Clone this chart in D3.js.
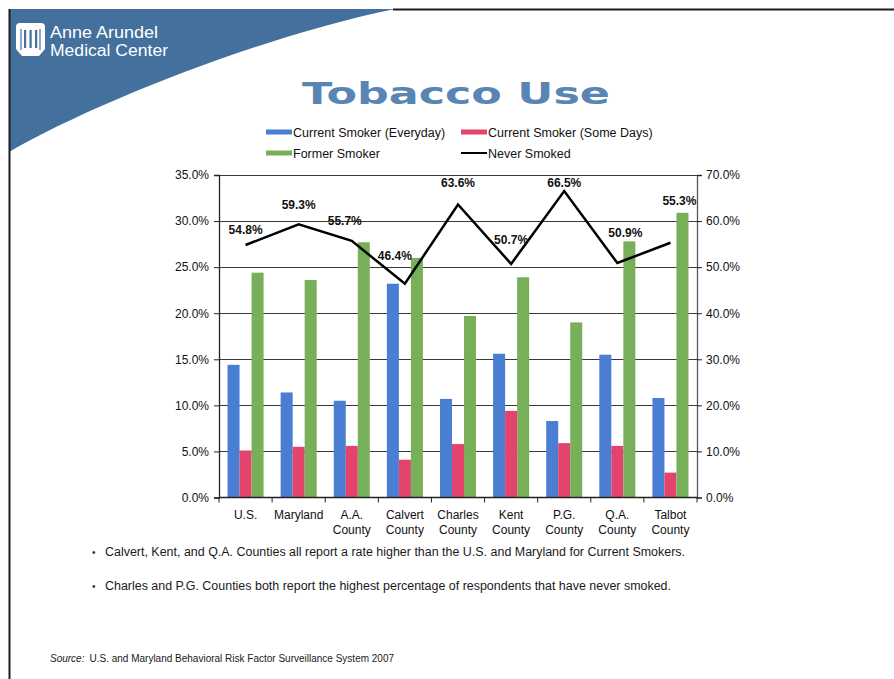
<!DOCTYPE html>
<html>
<head>
<meta charset="utf-8">
<script src="https://cdnjs.cloudflare.com/ajax/libs/d3/7.8.5/d3.min.js"></script>
<style>
  html, body { margin: 0; padding: 0; background: #fff; }
  svg { display: block; font-family: "Liberation Sans", Arial, sans-serif; }
</style>
</head>
<body>
<svg id="chart" width="894" height="679"></svg>
<script>
// BRFSS 2007 tobacco use by jurisdiction
const categories = [["U.S."], ["Maryland"], ["A.A.", "County"], ["Calvert", "County"], ["Charles", "County"],
                    ["Kent", "County"], ["P.G.", "County"], ["Q.A.", "County"], ["Talbot", "County"]];
const seriesNames = ["Current Smoker (Everyday)", "Current Smoker (Some Days)", "Former Smoker", "Never Smoked"];
const everyday = [14.4, 11.4, 10.5, 23.2, 10.7, 15.6, 8.3, 15.5, 10.8];
const someDays = [5.1, 5.5, 5.6, 4.1, 5.8, 9.4, 5.9, 5.6, 2.7];
const former   = [24.4, 23.6, 27.7, 26.0, 19.7, 23.9, 19.0, 27.8, 30.9];
const never    = [54.8, 59.3, 55.7, 46.4, 63.6, 50.7, 66.5, 50.9, 55.3];
const leftTicks  = [0, 5, 10, 15, 20, 25, 30, 35];
const rightTicks = [0, 10, 20, 30, 40, 50, 60, 70];

// hand-placed label nudges for the line labels (dx, dy from the point)
const labelNudge = [[0, -11], [0, -15], [-7, -16], [-10, -24], [0, -17], [0, -20], [0, -4], [8, -26], [9, -38]];

const colors = ["#4a7ed2", "#e4446c", "#78b05a"];
const svg = d3.select("#chart");
const keys = categories.map(c => c.join(" "));

// ---- slide frame and header swoosh ----
svg.append("path")
  .attr("d", "M9,9 H395 C262,36 92,104 9,152 Z")
  .attr("fill", "#44709d");
svg.append("line").attr("x1", 393).attr("x2", 894).attr("y1", 9.5).attr("y2", 9.5)
  .attr("stroke", "#1c1c1c").attr("stroke-width", 2);
svg.append("line").attr("x1", 9.5).attr("x2", 9.5).attr("y1", 9).attr("y2", 679)
  .attr("stroke", "#1c1c1c").attr("stroke-width", 2);

// logo mark
const logo = svg.append("g");
logo.append("path")
  .attr("d", "M16,27 Q16,23 20,23 L41,23 Q45,23 45,27 L45,49 L39,56 L22,56 L16,49 Z")
  .attr("fill", "#fff");
[24, 29.5, 35].forEach(x => logo.append("rect").attr("x", x).attr("y", 30).attr("width", 2.2).attr("height", 18).attr("fill", "#44709d"));
logo.append("path").attr("d", "M21,29 L21,50 M40,29 L40,50").attr("stroke", "#44709d").attr("stroke-width", 1.2);
svg.append("text").attr("x", 50).attr("y", 38).attr("fill", "#fff")
  .attr("font-family", "'Liberation Sans', Arial, sans-serif").attr("font-size", 16)
  .attr("textLength", 108).attr("lengthAdjust", "spacingAndGlyphs").text("Anne Arundel");
svg.append("text").attr("x", 50).attr("y", 56).attr("fill", "#fff")
  .attr("font-family", "'Liberation Sans', Arial, sans-serif").attr("font-size", 16)
  .attr("textLength", 118).attr("lengthAdjust", "spacingAndGlyphs").text("Medical Center");

// title
svg.append("text").attr("x", 302).attr("y", 104)
  .attr("font-family", "'DejaVu Sans', Verdana, sans-serif").attr("font-weight", "bold")
  .attr("font-size", 31).attr("fill", "#5885b4")
  .attr("textLength", 308).attr("lengthAdjust", "spacingAndGlyphs").text("Tobacco Use");

// ---- legend ----
const legendItems = [
  { name: seriesNames[0], x: 266, y: 132, type: "bar", color: colors[0] },
  { name: seriesNames[1], x: 461, y: 132, type: "bar", color: colors[1] },
  { name: seriesNames[2], x: 266, y: 153, type: "bar", color: colors[2] },
  { name: seriesNames[3], x: 461, y: 153, type: "line", color: "#000" }
];
const lg = svg.append("g").selectAll("g").data(legendItems).join("g");
lg.filter(d => d.type === "bar").append("rect")
  .attr("x", d => d.x).attr("y", d => d.y - 2.5).attr("width", 26).attr("height", 5).attr("fill", d => d.color);
lg.filter(d => d.type === "line").append("line")
  .attr("x1", d => d.x).attr("x2", d => d.x + 26).attr("y1", d => d.y).attr("y2", d => d.y)
  .attr("stroke", "#000").attr("stroke-width", 2);
lg.append("text").attr("x", d => d.x + 27).attr("y", d => d.y + 4.5)
  .attr("font-size", 12.5).attr("fill", "#111").text(d => d.name);

// ---- plot ----
const L = 219, R = 697, T = 175, B = 497.5;
const x = d3.scaleBand().domain(keys).range([L, R]).padding(0);
const xi = d3.scaleBand().domain([0, 1, 2]).range([0, x.bandwidth()]).paddingInner(0).paddingOuter(0.71);
const yL = d3.scaleLinear().domain([0, 35]).range([B, T]);
const yR = d3.scaleLinear().domain([0, 70]).range([B, T]);

// gridlines
svg.append("g").selectAll("line").data(leftTicks.slice(1)).join("line")
  .attr("x1", L).attr("x2", R).attr("y1", d => Math.round(yL(d)) + 0.5).attr("y2", d => Math.round(yL(d)) + 0.5)
  .attr("stroke", "#3a3a3a").attr("stroke-width", 1);

// bars
const barSeries = [everyday, someDays, former];
barSeries.forEach((vals, s) => {
  svg.append("g").selectAll("rect").data(vals).join("rect")
    .attr("x", (d, i) => x(keys[i]) + xi(s))
    .attr("y", d => yL(d))
    .attr("width", xi.bandwidth())
    .attr("height", d => B - yL(d))
    .attr("fill", colors[s]);
});

// left axis
const axL = svg.append("g").attr("transform", `translate(${L},0)`)
  .call(d3.axisLeft(yL).tickValues(leftTicks).tickFormat(d => d.toFixed(1) + "%").tickSize(5).tickPadding(5));
// right axis
const axR = svg.append("g").attr("transform", `translate(${R},0)`)
  .call(d3.axisRight(yR).tickValues(rightTicks).tickFormat(d => d.toFixed(1) + "%").tickSize(5).tickPadding(4));
[axL, axR].forEach(a => {
  a.select(".domain").attr("stroke", "#222").attr("stroke-width", 1.3);
  a.selectAll(".tick line").attr("stroke", "#222");
  a.selectAll("text").attr("font-family", "'Liberation Sans', Arial, sans-serif").attr("font-size", 12).attr("fill", "#111");
});
axR.select(".domain").attr("stroke", "#555");

// bottom axis with boundary ticks
const axB = svg.append("g").attr("transform", `translate(0,${B})`);
axB.append("line").attr("x1", L).attr("x2", R).attr("stroke", "#222").attr("stroke-width", 1.3);
axB.selectAll("line.tk").data(d3.range(keys.length + 1)).join("line").attr("class", "tk")
  .attr("x1", i => L + i * x.step()).attr("x2", i => L + i * x.step())
  .attr("y1", 0).attr("y2", 5).attr("stroke", "#222");
const catLbl = axB.selectAll("text").data(categories).join("text")
  .attr("text-anchor", "middle").attr("font-size", 12).attr("fill", "#111")
  .attr("x", (d, i) => x(keys[i]) + x.bandwidth() / 2).attr("y", 21);
catLbl.selectAll("tspan").data(d => d).join("tspan")
  .attr("x", function () { return d3.select(this.parentNode).attr("x"); })
  .attr("dy", (d, j) => j === 0 ? 0 : 15).text(d => d);

// never smoked line
const cx = i => x(keys[i]) + x.bandwidth() / 2;
svg.append("path").datum(never)
  .attr("d", d3.line().x((d, i) => cx(i)).y(d => yR(d)))
  .attr("fill", "none").attr("stroke", "#000").attr("stroke-width", 2.5).attr("stroke-linejoin", "miter");
svg.append("g").selectAll("text").data(never).join("text")
  .attr("x", (d, i) => cx(i) + labelNudge[i][0])
  .attr("y", (d, i) => yR(d) + labelNudge[i][1])
  .attr("text-anchor", "middle").attr("font-size", 12).attr("font-weight", "bold").attr("fill", "#111")
  .text(d => d.toFixed(1) + "%");

// ---- notes ----
const notes = [
  "Calvert, Kent, and Q.A. Counties all report a rate higher than the U.S. and Maryland for Current Smokers.",
  "Charles and P.G. Counties both report the highest percentage of respondents that have never smoked."
];
const noteWidths = [580, 566];
notes.forEach((t, i) => {
  const yy = 556 + i * 34;
  svg.append("text").attr("x", 92).attr("y", yy).attr("font-size", 10).attr("fill", "#333").text("•");
  svg.append("text").attr("x", 105).attr("y", yy)
    .attr("font-family", "'Liberation Sans Narrow', 'Liberation Sans', Arial, sans-serif")
    .attr("font-size", 12.5).attr("fill", "#1a1a1a")
    .attr("textLength", noteWidths[i]).attr("lengthAdjust", "spacingAndGlyphs").text(t);
});
const src = svg.append("text").attr("x", 50).attr("y", 662)
  .attr("font-family", "'Liberation Sans Narrow', 'Liberation Sans', Arial, sans-serif")
  .attr("font-size", 10).attr("fill", "#1a1a1a");
src.append("tspan").attr("font-style", "italic").text("Source:");
src.append("tspan").attr("dx", 5).text("U.S. and Maryland Behavioral Risk Factor Surveillance System 2007");
</script>
</body>
</html>
